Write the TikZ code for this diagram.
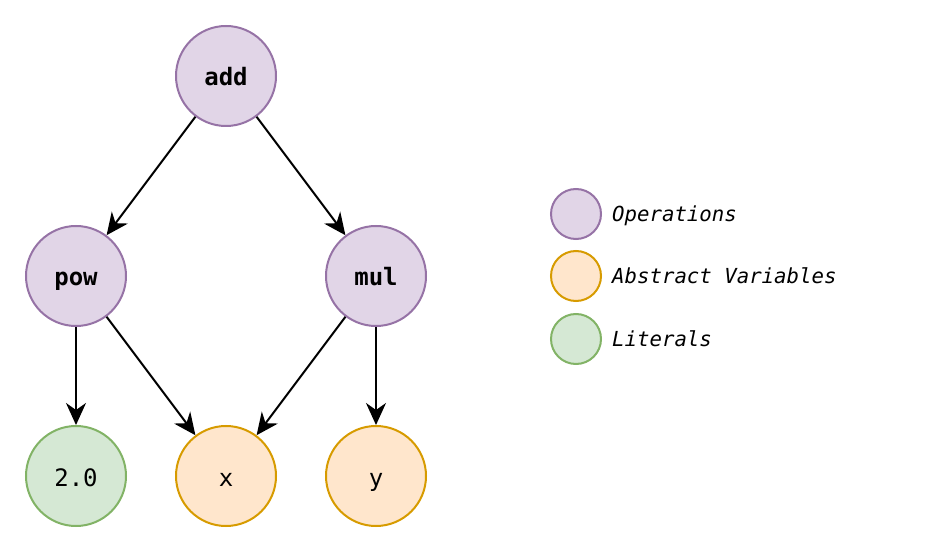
\documentclass[tikz,border=0pt]{standalone}
\usepackage{fontspec}
\setmonofont{DejaVu Sans Mono}
\usetikzlibrary{arrows.meta}
\definecolor{opfill}{HTML}{E1D5E7}
\definecolor{opdraw}{HTML}{9673A6}
\definecolor{varfill}{HTML}{FFE6CC}
\definecolor{vardraw}{HTML}{D79B00}
\definecolor{litfill}{HTML}{D5E8D4}
\definecolor{litdraw}{HTML}{82B366}
\begin{document}
\begin{tikzpicture}[x=1pt,y=-1pt,
  nd/.style={circle,minimum size=100pt,inner sep=0pt,line width=2pt,text height=22pt,text depth=2pt,font=\ttfamily\fontsize{24}{26}\selectfont},
  op/.style={nd,fill=opfill,draw=opdraw,font=\ttfamily\bfseries\fontsize{24}{26}\selectfont},
  var/.style={nd,fill=varfill,draw=vardraw},
  lit/.style={nd,fill=litfill,draw=litdraw},
  leg/.style={circle,minimum size=50pt,inner sep=0pt,line width=2pt},
  legtxt/.style={anchor=west,inner sep=0pt,text height=18pt,text depth=2pt,font=\ttfamily\itshape\fontsize{20.7}{23}\selectfont},
  edge/.style={line width=2pt,-{Stealth[length=22pt,width=20pt,inset=7pt]}}]
\useasboundingbox (0,0) rectangle (930,553);
\node[op] (add) at (226,76) {add};
\node[op] (pow) at (76,276) {pow};
\node[op] (mul) at (376,276) {mul};
\node[lit] (lit) at (76,476) {2.0};
\node[var] (x) at (226,476) {x};
\node[var] (y) at (376,476) {y};
\draw[edge] (add) -- (pow);
\draw[edge] (add) -- (mul);
\draw[edge] (pow) -- (lit);
\draw[edge] (pow) -- (x);
\draw[edge] (mul) -- (x);
\draw[edge] (mul) -- (y);
\node[leg,fill=opfill,draw=opdraw] (l1) at (576,214) {};
\node[leg,fill=varfill,draw=vardraw] (l2) at (576,276) {};
\node[leg,fill=litfill,draw=litdraw] (l3) at (576,339) {};
\node[legtxt] (t1) at (612,214) {Operations};
\node[legtxt] (t2) at (612,276) {Abstract Variables};
\node[legtxt] (t3) at (612,339) {Literals};
\end{tikzpicture}
\end{document}
